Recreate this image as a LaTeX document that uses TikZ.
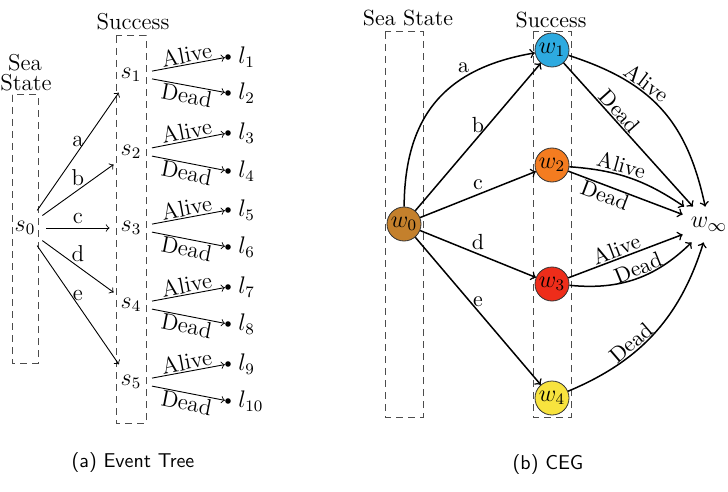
\documentclass[tikz,border=0pt]{standalone}
\usepackage{fontspec}
\definecolor{cbrown}{HTML}{C4802C}
\definecolor{cblue}{HTML}{2DAAE0}
\definecolor{corange}{HTML}{F47C20}
\definecolor{cred}{HTML}{EE2D1A}
\definecolor{cyellow}{HTML}{F8E33E}
\tikzset{
  snode/.style={circle, minimum size=21pt, inner sep=0pt},
  leaf/.style={circle, fill, inner sep=0pt, minimum size=2.8pt},
  groupbox/.style={draw=black!70, dash pattern=on 3.5pt off 2.5pt, line width=0.5pt},
  tedge/.style={->, line width=0.45pt},
  cedge/.style={->, line width=0.75pt},
  wnode/.style={circle, draw=black!80, line width=0.4pt, minimum size=17pt, inner sep=0pt, font=\fontsize{12}{14}\selectfont},
  elab/.style={inner sep=2pt},
  slab/.style={inner sep=0.6pt, sloped},
  captxt/.style={font=\sffamily\fontsize{10}{12}\selectfont},
}
\begin{document}
\begin{tikzpicture}[x=0.5pt, y=-0.5pt, font=\fontsize{10.95}{13}\selectfont]
\useasboundingbox (0,0) rectangle (728,492);

% ---------- (a) Event tree ----------
\begin{scope}[font=\fontsize{11.5}{13.5}\selectfont]
\node (seaA) at (25,63) {Sea};
\node (stateA) at (26,83) {State};
\node (succA) at (133,22) {Success};
\draw[groupbox] (12,95) rectangle (38,363);
\draw[groupbox] (116,36) rectangle (146,423);

\node[snode] (s0) at (25,228) {$s_0$};
\node[snode] (s1) at (131,75) {$s_1$};
\node[snode] (s2) at (131,152) {$s_2$};
\node[snode] (s3) at (131,228) {$s_3$};
\node[snode] (s4) at (131,305) {$s_4$};
\node[snode] (s5) at (131,382) {$s_5$};

\node[leaf, label={right:$l_{1}$}] (l1) at (228,57) {};
\node[leaf, label={right:$l_{2}$}] (l2) at (228,93) {};
\node[leaf, label={right:$l_{3}$}] (l3) at (228,133) {};
\node[leaf, label={right:$l_{4}$}] (l4) at (228,171) {};
\node[leaf, label={right:$l_{5}$}] (l5) at (228,210) {};
\node[leaf, label={right:$l_{6}$}] (l6) at (228,247) {};
\node[leaf, label={right:$l_{7}$}] (l7) at (228,287) {};
\node[leaf, label={right:$l_{8}$}] (l8) at (228,324) {};
\node[leaf, label={right:$l_{9}$}] (l9) at (228,364) {};
\node[leaf, label={right:$l_{10}$}] (l10) at (228,401) {};

\draw[tedge] (s0) -- node[elab, above] {a} (s1);
\draw[tedge] (s0) -- node[elab, above] {b} (s2);
\draw[tedge] (s0) -- node[elab, above] {c} (s3);
\draw[tedge] (s0) -- node[elab, above] {d} (s4);
\draw[tedge] (s0) -- node[elab, above] {e} (s5);

\draw[tedge] (s1) -- node[slab, above] {Alive} (l1);
\draw[tedge] (s1) -- node[slab, below] {Dead} (l2);
\draw[tedge] (s2) -- node[slab, above] {Alive} (l3);
\draw[tedge] (s2) -- node[slab, below] {Dead} (l4);
\draw[tedge] (s3) -- node[slab, above] {Alive} (l5);
\draw[tedge] (s3) -- node[slab, below] {Dead} (l6);
\draw[tedge] (s4) -- node[slab, above] {Alive} (l7);
\draw[tedge] (s4) -- node[slab, below] {Dead} (l8);
\draw[tedge] (s5) -- node[slab, above] {Alive} (l9);
\draw[tedge] (s5) -- node[slab, below] {Dead} (l10);
\end{scope}

\node[captxt] (capA) at (133,462) {(a) Event Tree};

% ---------- (b) CEG ----------
\node (seaB) at (408,18) {Sea State};
\node (succB) at (551,20) {Success};
\draw[groupbox] (385,32) rectangle (423,417);
\draw[groupbox] (533,32) rectangle (571,417);

\node[wnode, fill=cbrown] (w0) at (404,224) {$w_0$};
\node[wnode, fill=cblue] (w1) at (552,50) {$w_1$};
\node[wnode, fill=corange] (w2) at (552,165) {$w_2$};
\node[wnode, fill=cred] (w3) at (552,284) {$w_3$};
\node[wnode, fill=cyellow] (w4) at (552,398) {$w_4$};
\node[rectangle, inner sep=0pt, minimum width=26pt, minimum height=17.5pt, font=\fontsize{12.5}{14}\selectfont] (winf) at (709,224.5) {$w_\infty$};

\draw[cedge] (w0) to[bend left=40, looseness=1.15] node[elab, above, pos=0.68] {a} (w1);
\draw[cedge] (w0) -- node[elab, above] {b} (w1);
\draw[cedge] (w0) -- node[elab, above] {c} (w2);
\draw[cedge] (w0) -- node[elab, above] {d} (w3);
\draw[cedge] (w0) -- node[elab, above] {e} (w4);

\draw[cedge] (w1) to[bend left=30, looseness=1.1] node[slab, above, pos=0.36] {Alive} (winf);
\draw[cedge] (w1) -- node[slab, above, pos=0.38] {Dead} (winf);
\draw[cedge] (w2) to[bend left=15] node[slab, above, pos=0.4] {Alive} (winf);
\draw[cedge] (w2) -- node[slab, below, pos=0.35] {Dead} (winf);
\draw[cedge] (w3) -- node[slab, above, pos=0.45] {Alive} (winf);
\draw[cedge] (w3) to[bend right=25] node[slab, above, pos=0.55] {Dead} (winf);
\draw[cedge] (w4) to[bend right=25] node[slab, above, pos=0.38] {Dead} (winf);

\node[captxt] (capB) at (548,464) {(b) CEG};
\end{tikzpicture}
\end{document}
